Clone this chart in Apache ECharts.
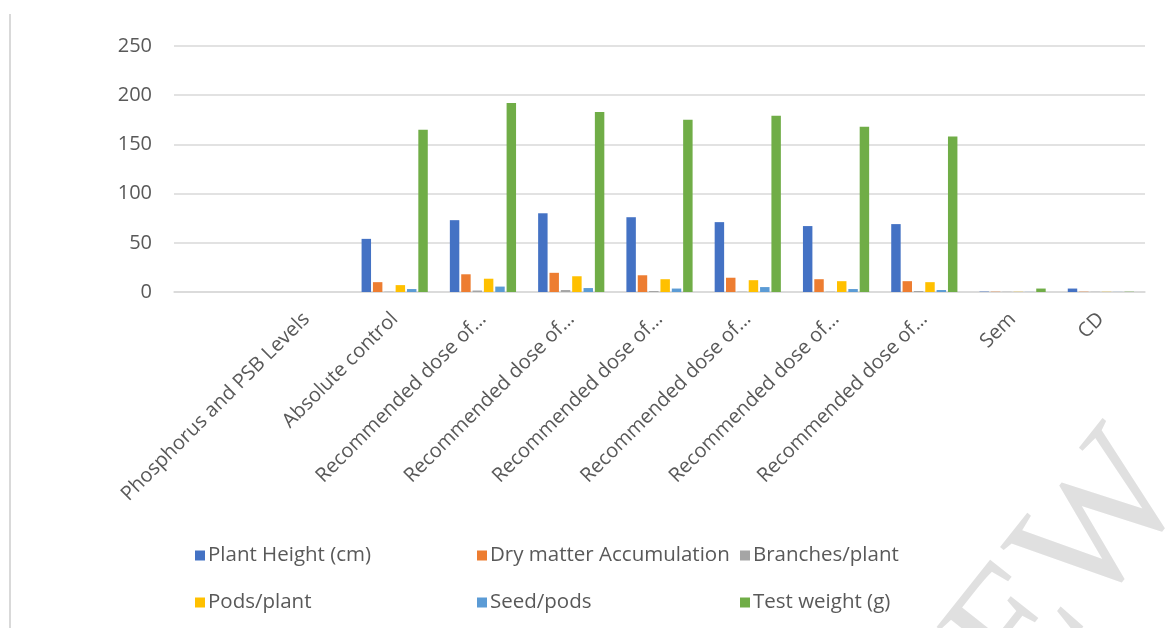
<!DOCTYPE html>
<html><head><meta charset="utf-8">
<script src="https://cdn.jsdelivr.net/npm/echarts@6/dist/echarts.min.js"></script>
<style>html,body{margin:0;padding:0;background:#fff}#c{width:1165px;height:628px}</style>
</head><body><div id="c"></div>
<script>
const categories = ["", "Phosphorus and PSB Levels", "Absolute control", "Recommended dose of…", "Recommended dose of…", "Recommended dose of…", "Recommended dose of…", "Recommended dose of…", "Recommended dose of…", "Sem", "CD"];
const plantHeight   = [null, null, 54, 73, 80, 76, 71, 67, 69, 0.4, 3.5];
const dryMatter     = [null, null, 10, 18, 19.5, 17, 14.5, 13, 11, 0.3, 0.3];
const branches      = [null, null, 0.3, 1.5, 2, 1, 0.3, 0.3, 1, 0.2, 0.2];
const podsPlant     = [null, null, 7, 13.5, 16, 13, 12, 11, 10, 0.2, 0.2];
const seedPods      = [null, null, 3, 5.5, 4, 3.5, 5, 3, 2, 0.1, 0.1];
const testWeight    = [null, null, 165, 192, 183, 175, 179, 168, 158, 3.5, 0.3];
const yTicks = [0, 50, 100, 150, 200, 250];
const seriesNames = ["Plant Height (cm)", "Dry matter Accumulation", "Branches/plant", "Pods/plant", "Seed/pods", "Test weight (g)"];
const seriesData = [plantHeight, dryMatter, branches, podsPlant, seedPods, testWeight];
const colors = ["#4472C4", "#ED7D31", "#A5A5A5", "#FFC000", "#5B9BD5", "#70AD47"];

const FONT = "Open Sans";
const txt = "#595959";
const chart = echarts.init(document.getElementById('c'));
const legendPos = [[190, 540], [472, 540], [735, 540], [190, 587], [472, 587], [735, 587]];
chart.setOption({
  animation: false,
  color: colors,
  textStyle: {fontFamily: FONT},
  grid: {left: 174, right: 20, top: 46, bottom: 336, containLabel: false},
  legend: seriesNames.map((n, i) => ({
    data: [n], left: legendPos[i][0], top: legendPos[i][1],
    icon: 'rect', itemWidth: 10, itemHeight: 10, itemGap: 0,
    textStyle: {color: txt, fontSize: 20.5, fontFamily: FONT, padding: [0, 0, 0, -2]}
  })),
  xAxis: {
    type: 'category', data: categories,
    axisLine: {lineStyle: {color: '#d9d9d9', width: 1.5}},
    axisTick: {show: false},
    axisLabel: {rotate: 45, interval: 0, color: txt, fontSize: 20, fontFamily: FONT, margin: 24}
  },
  yAxis: {
    type: 'value', min: 0, max: 250, interval: 50,
    axisLine: {show: false}, axisTick: {show: false},
    axisLabel: {color: txt, fontSize: 20, fontFamily: FONT, margin: 22},
    splitLine: {lineStyle: {color: '#d9d9d9', width: 1.5}}
  },
  series: seriesNames.map((n, i) => ({
    name: n, type: 'bar', data: seriesData[i],
    barGap: '20%', barCategoryGap: '25%',
    itemStyle: {color: colors[i]}
  })),
  graphic: [
    {type: 'line', shape: {x1: 10, y1: 14, x2: 10, y2: 628}, style: {stroke: '#d9d9d9', lineWidth: 2}},
    {type: 'text', x: 1225, y: 515, rotation: 0.9, z: -1,
     style: {text: 'PREVIEW', font: '175px "Liberation Serif"', fill: '#e0e0e0', align: 'right', verticalAlign: 'bottom'}}
  ]
});
</script></body></html>
